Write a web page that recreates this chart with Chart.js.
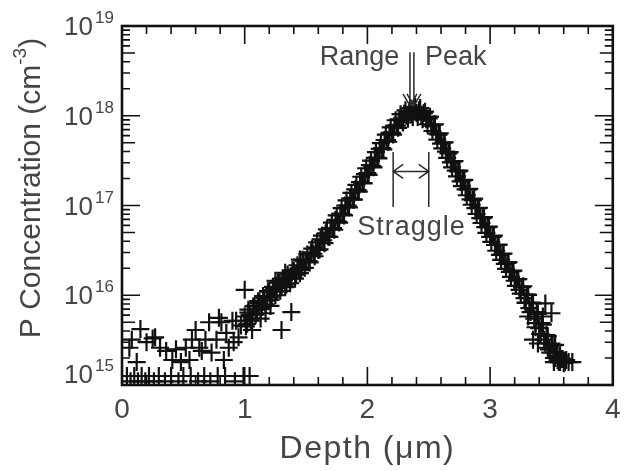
<!DOCTYPE html>
<html>
<head>
<meta charset="utf-8">
<script src="https://cdn.jsdelivr.net/npm/chart.js@4.4.0/dist/chart.umd.min.js"></script>
<style>
    body { margin: 0; background: #fff; }
</style>
</head>
<body>
<canvas id="perfil_fosforo" width="624" height="471"></canvas>
<script>
/* Perfil de concentração de P implantado (escala log) em função da profundidade */

// faixa principal do perfil (µm)
const profundidade = [
    1.00, 1.02, 1.04, 1.06, 1.08, 1.10, 1.12, 1.14, 1.16, 1.18,
    1.20, 1.22, 1.24, 1.26, 1.28, 1.30, 1.32, 1.34, 1.36, 1.38,
    1.40, 1.42, 1.44, 1.46, 1.48, 1.50, 1.52, 1.54, 1.56, 1.58,
    1.60, 1.62, 1.64, 1.66, 1.68, 1.70, 1.72, 1.74, 1.76, 1.78,
    1.80, 1.82, 1.84, 1.86, 1.88, 1.90, 1.92, 1.94, 1.96, 1.98,
    2.00, 2.02, 2.04, 2.06, 2.08, 2.10, 2.12, 2.14, 2.16, 2.18,
    2.20, 2.22, 2.24, 2.26, 2.28, 2.30, 2.32, 2.34, 2.36, 2.38,
    2.40, 2.42, 2.44, 2.46, 2.48, 2.50, 2.52, 2.54, 2.56, 2.58,
    2.60, 2.62, 2.64, 2.66, 2.68, 2.70, 2.72, 2.74, 2.76, 2.78,
    2.80, 2.82, 2.84, 2.86, 2.88, 2.90, 2.92, 2.94, 2.96, 2.98,
    3.00, 3.02, 3.04, 3.06, 3.08, 3.10, 3.12, 3.14, 3.16, 3.18,
    3.20, 3.22, 3.24, 3.26, 3.28, 3.30, 3.32, 3.34, 3.36, 3.38,
    3.40, 3.42, 3.44, 3.46, 3.48, 3.50, 3.52, 3.54, 3.56, 3.58,
    3.60
];

// concentração (cm^-3)
const concentracao = [
    5.8e15, 4.8e15, 6.0e15, 5.5e15, 7.6e15, 6.9e15, 8.5e15, 7.4e15, 9.3e15, 8.7e15,
    1.1e16, 9.5e15, 1.17e16, 1.1e16, 1.38e16, 1.26e16, 1.48e16, 1.32e16, 1.58e16, 1.55e16,
    1.86e16, 1.7e16, 2.0e16, 1.91e16, 2.4e16, 2.4e16, 2.4e16, 3.0e16, 2.9e16, 3.4e16,
    3.2e16, 4.2e16, 4.1e16, 4.9e16, 4.5e16, 5.6e16, 5.6e16, 6.9e16, 6.6e16, 8.1e16,
    7.9e16, 1.0e17, 1.0e17, 1.2e17, 1.17e17, 1.51e17, 1.48e17, 1.82e17, 1.78e17, 2.24e17,
    2.29e17, 2.82e17, 2.75e17, 3.39e17, 3.39e17, 4.27e17, 4.37e17, 5.37e17, 5.37e17, 6.46e17,
    6.46e17, 7.76e17, 7.76e17, 9.12e17, 8.91e17, 1.05e18, 1.0e18, 1.12e18, 1.05e18, 1.17e18,
    1.07e18, 1.15e18, 1.02e18, 1.07e18, 9.12e17, 9.33e17, 7.76e17, 7.94e17, 6.31e17, 6.17e17,
    4.9e17, 5.01e17, 3.98e17, 3.8e17, 3.02e17, 3.09e17, 2.45e17, 2.4e17, 1.86e17, 1.91e17,
    1.51e17, 1.51e17, 1.17e17, 1.15e17, 9.33e16, 9.33e16, 7.24e16, 7.24e16, 5.75e16, 5.75e16,
    4.47e16, 4.47e16, 3.63e16, 3.63e16, 2.82e16, 2.88e16, 2.24e16, 2.29e16, 1.82e16, 1.86e16,
    1.45e16, 1.51e16, 1.15e16, 1.23e16, 9.3e15, 1.02e16, 7.2e15, 8.3e15, 5.5e15, 6.5e15,
    4.3e15, 4.9e15, 3.2e15, 3.6e15, 2.5e15, 2.9e15, 2.0e15, 2.3e15, 1.8e15, 1.95e15,
    1.75e15
];

// medidas intercaladas (passo deslocado de 0.01 µm)
const profundidade_b = [
    1.01, 1.03, 1.05, 1.07, 1.09, 1.11, 1.13, 1.15, 1.17, 1.19,
    1.21, 1.23, 1.25, 1.27, 1.29, 1.31, 1.33, 1.35, 1.37, 1.39,
    1.41, 1.43, 1.45, 1.47, 1.49, 1.51, 1.53, 1.55, 1.57, 1.59,
    1.61, 1.63, 1.65, 1.67, 1.69, 1.71, 1.73, 1.75, 1.77, 1.79,
    1.81, 1.83, 1.85, 1.87, 1.89, 1.91, 1.93, 1.95, 1.97, 1.99,
    2.01, 2.03, 2.05, 2.07, 2.09, 2.11, 2.13, 2.15, 2.17, 2.19,
    2.21, 2.23, 2.25, 2.27, 2.29, 2.31, 2.33, 2.35, 2.37, 2.39,
    2.41, 2.43, 2.45, 2.47, 2.49, 2.51, 2.53, 2.55, 2.57, 2.59,
    2.61, 2.63, 2.65, 2.67, 2.69, 2.71, 2.73, 2.75, 2.77, 2.79,
    2.81, 2.83, 2.85, 2.87, 2.89, 2.91, 2.93, 2.95, 2.97, 2.99,
    3.01, 3.03, 3.05, 3.07, 3.09, 3.11, 3.13, 3.15, 3.17, 3.19,
    3.21, 3.23, 3.25, 3.27, 3.29, 3.31, 3.33, 3.35, 3.37, 3.39,
    3.41, 3.43, 3.45, 3.47, 3.49, 3.51, 3.53, 3.55, 3.57, 3.59
];
const concentracao_b = [
    4.5e15, 6.4e15, 5.2e15, 7.5e15, 6.1e15, 8.6e15, 7.0e15, 9.8e15, 7.9e15, 1.11e16,
    8.9e15, 1.24e16, 1.0e16, 1.4e16, 1.12e16, 1.55e16, 1.23e16, 1.7e16, 1.36e16, 1.91e16,
    1.53e16, 2.16e16, 1.76e16, 2.48e16, 2.02e16, 2.85e16, 2.32e16, 3.31e16, 2.72e16, 3.89e16,
    3.24e16, 4.62e16, 3.8e16, 5.43e16, 4.47e16, 6.46e16, 5.37e16, 7.76e16, 6.46e16, 9.33e16,
    7.76e16, 1.14e17, 9.55e16, 1.38e17, 1.16e17, 1.7e17, 1.43e17, 2.09e17, 1.76e17, 2.6e17,
    2.19e17, 3.16e17, 2.66e17, 3.94e17, 3.35e17, 4.95e17, 4.22e17, 6.17e17, 5.13e17, 7.41e17,
    6.17e17, 8.91e17, 7.33e17, 1.04e18, 8.41e17, 1.15e18, 9.23e17, 1.22e18, 9.66e17, 1.26e18,
    9.66e17, 1.22e18, 9.12e17, 1.11e18, 8.04e17, 9.77e17, 6.76e17, 8.04e17, 5.43e17, 6.38e17,
    4.32e17, 5.07e17, 3.39e17, 3.94e17, 2.66e17, 3.13e17, 2.11e17, 2.45e17, 1.64e17, 1.93e17,
    1.3e17, 1.53e17, 1.02e17, 1.19e17, 8.04e16, 9.44e16, 6.38e16, 7.41e16, 4.95e16, 5.82e16,
    3.94e16, 4.62e16, 3.13e16, 3.67e16, 2.48e16, 2.92e16, 1.97e16, 2.34e16, 1.6e16, 1.88e16,
    1.27e16, 1.51e16, 1.04e16, 1.26e16, 8.2e15, 1.01e16, 6.5e15, 8.1e15, 4.9e15, 6.2e15,
    3.7e15, 4.7e15, 2.9e15, 3.5e15, 2.3e15, 2.75e15, 2.0e15, 2.26e15, 1.8e15, 1.95e15
];

// pontos espalhados na região rasa (ruído perto do limite de detecção)
const profundidade_ruido = [
    0.06, 0.08, 0.12, 0.15, 0.20, 0.25, 0.27, 0.31, 0.36, 0.41,
    0.44, 0.48, 0.52, 0.55, 0.57, 0.60, 0.63, 0.65, 0.68, 0.71,
    0.73, 0.77, 0.79, 0.81, 0.83, 0.85, 0.87, 0.90, 0.91, 0.93,
    0.95, 0.97, 1.00, 1.03, 1.06, 1.11, 1.13, 1.17, 1.21, 1.25,
    1.30, 1.33, 1.38, 1.45
];
const concentracao_ruido = [
    2.6e15, 3.2e15, 1.8e15, 4.2e15, 3.0e15, 3.3e15, 3.4e15, 2.6e15, 2.4e15, 1.9e15,
    2.5e15, 1.8e15, 2.6e15, 1.9e15, 3.2e15, 4.1e15, 2.6e15, 2.4e15, 3.2e15, 5.0e15,
    2.3e15, 3.2e15, 5.6e15, 5.0e15, 1.9e15, 3.8e15, 2.6e15, 5.2e15, 3.0e15, 5.2e15,
    3.4e15, 4.6e15, 1.15e16, 6.9e15, 4.1e15, 8.1e15, 5.5e15, 6.3e15, 7.6e15, 1.45e16,
    4.1e15, 1.78e16, 6.5e15, 2.5e16
];

// fileira colada no fundo da escala
const profundidade_fundo = [
    0.04, 0.07, 0.10, 0.13, 0.16, 0.19, 0.22, 0.26, 0.30, 0.35,
    0.40, 0.46, 0.50, 0.56, 0.62, 0.67, 0.72, 0.78, 0.84, 0.92,
    0.99, 1.04
];
const concentracao_fundo = [
    1.26e15, 1.1e15, 1.26e15, 1.1e15, 1.26e15, 1.1e15, 1.26e15, 1.1e15, 1.26e15, 1.1e15,
    1.26e15, 1.1e15, 1.26e15, 1.26e15, 1.1e15, 1.26e15, 1.1e15, 1.26e15, 1.26e15, 1.1e15,
    1.26e15, 1.26e15
];

// cauda profunda
const profundidade_cauda = [
    3.29, 3.31, 3.35, 3.37, 3.39, 3.41, 3.43, 3.45, 3.47, 3.50,
    3.52, 3.53, 3.55, 3.57, 3.61, 3.62, 3.64, 3.67
];
const concentracao_cauda = [
    8.3e15, 5.8e15, 3.2e15, 4.4e15, 2.9e15, 3.7e15, 5.8e15, 8.1e15, 2.6e15, 6.3e15,
    1.8e15, 2.8e15, 1.9e15, 2.1e15, 1.8e15, 1.9e15, 1.8e15, 1.8e15
];

const rotulos_x = ['0', '1', '2', '3', '4'];
const decadas_y = [15, 16, 17, 18, 19];

const pares = (xs, ys) => xs.map((v, i) => ({ x: v, y: ys[i] }));

const pontos_perfil = []
    .concat(pares(profundidade_fundo, concentracao_fundo))
    .concat(pares(profundidade_ruido, concentracao_ruido))
    .concat(pares(profundidade, concentracao))
    .concat(pares(profundidade_b, concentracao_b))
    .concat(pares(profundidade_cauda, concentracao_cauda));

const cor_texto = '#454545';
const fonte = '"Liberation Sans", Arial, sans-serif';

// moldura com ticks para dentro, rótulos 10^n, títulos e anotações
const moldura_grafico = {
    id: 'moldura_grafico',
    afterDraw(chart) {
        const ctx = chart.ctx;
        const sx = chart.scales.x;
        const sy = chart.scales.y;
        const a = chart.chartArea;
        ctx.save();

        ctx.strokeStyle = '#111';
        ctx.lineWidth = 1.6;
        ctx.beginPath();
        for (let i = 0; i <= 20; i++) {
            const px = sx.getPixelForValue(i * 0.2);
            const len = (i % 5 === 0) ? 18 : 8;
            ctx.moveTo(px, a.bottom); ctx.lineTo(px, a.bottom - len);
            ctx.moveTo(px, a.top); ctx.lineTo(px, a.top + len);
        }
        for (let d = 15; d < 19; d++) {
            for (let m = 1; m <= 9; m++) {
                const py = sy.getPixelForValue(m * Math.pow(10, d));
                const len = m === 1 ? 18 : (m === 5 ? 13 : 8);
                ctx.moveTo(a.left, py); ctx.lineTo(a.left + len, py);
                ctx.moveTo(a.right, py); ctx.lineTo(a.right - len, py);
            }
        }
        ctx.stroke();

        ctx.lineWidth = 2.6;
        ctx.strokeRect(a.left, a.top, a.right - a.left, a.bottom - a.top);

        ctx.fillStyle = cor_texto;

        // rótulos do eixo x
        ctx.font = '28px ' + fonte;
        ctx.textAlign = 'center';
        ctx.textBaseline = 'alphabetic';
        rotulos_x.forEach(r => {
            ctx.fillText(r, sx.getPixelForValue(Number(r)), a.bottom + 33);
        });

        // rótulos do eixo y: 10 com expoente
        decadas_y.forEach((d, i) => {
            const py = sy.getPixelForValue(Math.pow(10, d));
            const base = i === 0 ? py - 2 : py + 9;
            ctx.font = '26px ' + fonte;
            ctx.textAlign = 'right';
            ctx.fillText('10', 93, base);
            ctx.font = '17px ' + fonte;
            ctx.textAlign = 'left';
            ctx.fillText(String(d), 95, base - 12);
        });

        // título do eixo x
        ctx.font = '32px ' + fonte;
        ctx.letterSpacing = '1.5px';
        ctx.textAlign = 'center';
        ctx.fillText('Depth (\u03bcm)', (a.left + a.right) / 2, 458);
        ctx.letterSpacing = '0px';

        // título do eixo y, girado, com cm^-3
        ctx.save();
        ctx.translate(40, 188);
        ctx.rotate(-Math.PI / 2);
        ctx.textAlign = 'left';
        const p1 = 'P Concentration (cm';
        const p2 = '-3';
        const p3 = ')';
        ctx.font = '30px ' + fonte;
        const w1 = ctx.measureText(p1).width;
        const w3 = ctx.measureText(p3).width;
        ctx.font = '19px ' + fonte;
        const w2 = ctx.measureText(p2).width;
        const xi = -(w1 + w2 + w3) / 2;
        ctx.font = '30px ' + fonte;
        ctx.fillText(p1, xi, 0);
        ctx.font = '19px ' + fonte;
        ctx.fillText(p2, xi + w1, -14);
        ctx.font = '30px ' + fonte;
        ctx.fillText(p3, xi + w1 + w2, 0);
        ctx.restore();

        // anotações: Range / Peak
        ctx.font = '27px ' + fonte;
        ctx.textAlign = 'right';
        ctx.fillText('Range', sx.getPixelForValue(2.26), sy.getPixelForValue(3.7e18));
        ctx.textAlign = 'left';
        ctx.fillText('Peak', sx.getPixelForValue(2.47), sy.getPixelForValue(3.7e18));

        ctx.strokeStyle = '#2a2a2a';
        ctx.lineWidth = 1.5;
        ctx.beginPath();
        [2.347, 2.379].forEach(xv => {
            const px = sx.getPixelForValue(xv);
            const top = sy.getPixelForValue(5.1e18);
            const tip = sy.getPixelForValue(1.29e18);
            ctx.moveTo(px, top); ctx.lineTo(px, tip);
            ctx.moveTo(px - 7, tip - 12); ctx.lineTo(px, tip); ctx.lineTo(px + 7, tip - 12);
        });

        // Straggle: barras e seta dupla
        const xe = sx.getPixelForValue(2.21);
        const xd = sx.getPixelForValue(2.50);
        const yt = sy.getPixelForValue(3.95e17);
        const yb = sy.getPixelForValue(9.6e16);
        const ym = sy.getPixelForValue(2.4e17);
        ctx.moveTo(xe, yt); ctx.lineTo(xe, yb);
        ctx.moveTo(xd, yt); ctx.lineTo(xd, yb);
        ctx.moveTo(xe, ym); ctx.lineTo(xd, ym);
        ctx.moveTo(xe + 10, ym - 7); ctx.lineTo(xe, ym); ctx.lineTo(xe + 10, ym + 7);
        ctx.moveTo(xd - 10, ym - 7); ctx.lineTo(xd, ym); ctx.lineTo(xd - 10, ym + 7);
        ctx.stroke();

        ctx.letterSpacing = '1px';
        ctx.textAlign = 'center';
        ctx.fillText('Straggle', sx.getPixelForValue(2.36), sy.getPixelForValue(4.7e16));
        ctx.letterSpacing = '0px';

        ctx.restore();
    }
};

const config_perfil_fosforo = {
    type: 'scatter',
    data: {
        datasets: [{
            label: 'P',
            data: pontos_perfil,
            pointStyle: 'cross',
            pointRadius: 9,
            pointHoverRadius: 9,
            borderWidth: 2.2,
            borderColor: '#111',
            backgroundColor: 'rgba(0,0,0,0)',
            clip: 0,
        }]
    },
    options: {
        responsive: false,
        animation: false,
        events: [],
        layout: {
            padding: { left: 122, right: 7, top: 26, bottom: 86 }
        },
        plugins: {
            legend: { display: false },
            tooltip: { enabled: false }
        },
        scales: {
            x: {
                type: 'linear',
                min: 0,
                max: 4,
                display: false
            },
            y: {
                type: 'logarithmic',
                min: 1e15,
                max: 1e19,
                display: false
            }
        }
    },
    plugins: [moldura_grafico]
};

const grafico_perfil_fosforo = new Chart(
    document.getElementById('perfil_fosforo'),
    config_perfil_fosforo
);
</script>
</body>
</html>
